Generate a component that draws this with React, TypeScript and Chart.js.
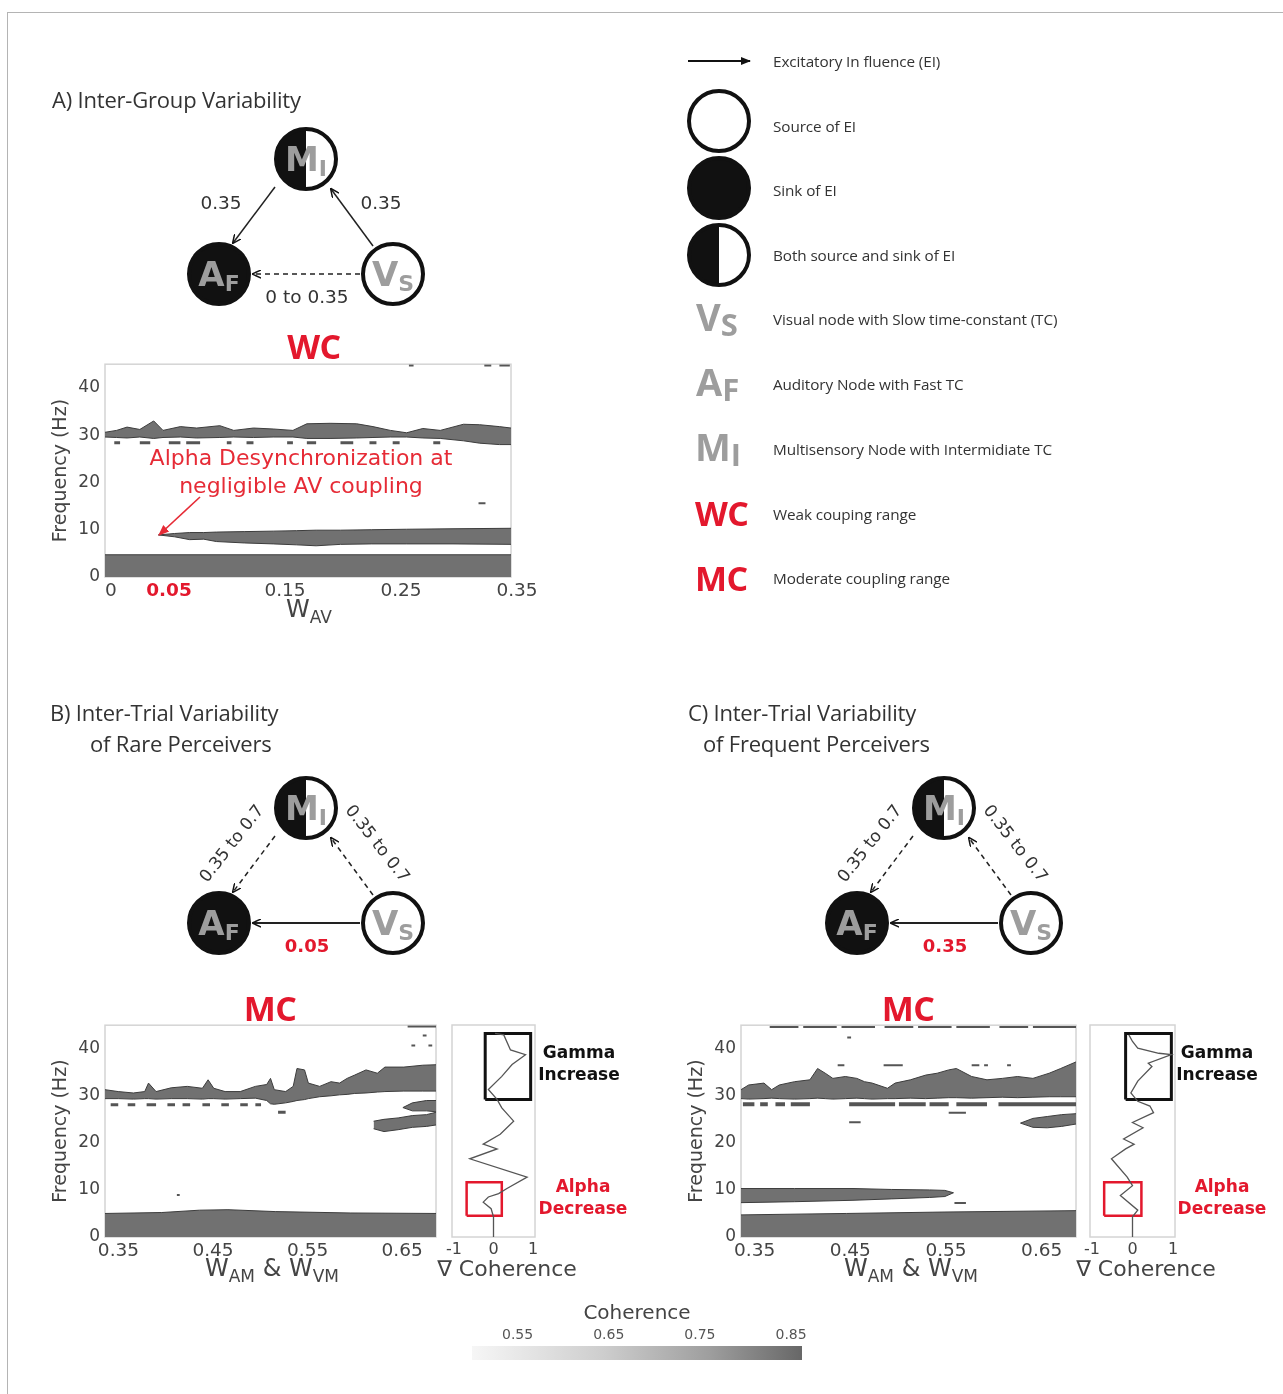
import React, { useEffect, useRef } from "react";
import { Chart, registerables } from "chart.js";
Chart.register(...registerables);

const RED = "#e3182d";
const FILL = "#717171";
const EDGE = "#3d3d3d";
const TICK = "#444";
const MONO = "DejaVu Sans";
const SANS = "'Open Sans', 'Noto Sans', sans-serif";

// ---------------- tick labels ----------------
const freqTicks = [0, 10, 20, 30, 40];
const wavTicks = [0, 0.05, 0.15, 0.25, 0.35];
const wmTicks = [0.35, 0.45, 0.55, 0.65];
const gradTicks = [-1, 0, 1];
const colorbarTicks = [0.55, 0.65, 0.75, 0.85];
const colorbarRange = [0.5, 0.862];

// ---------------- Panel A (W_AV 0..0.35) ----------------
const aLowX = [0, 0.1, 0.2, 0.35];
const aLowHi = [4.7, 4.7, 4.7, 4.7];
const aAlphaX = [0.046, 0.06, 0.073, 0.085, 0.096, 0.12, 0.145, 0.165, 0.182, 0.203, 0.23, 0.26, 0.3, 0.35];
const aAlphaHi = [8.9, 9.2, 9.4, 9.4, 9.5, 9.6, 9.7, 9.8, 9.9, 9.9, 10.0, 10.1, 10.2, 10.3];
const aAlphaLo = [8.9, 8.5, 7.9, 8.0, 7.5, 7.2, 7.0, 6.8, 6.6, 6.9, 7.0, 7.0, 7.0, 6.9];
const aGammaX = [0, 0.01, 0.019, 0.03, 0.042, 0.05, 0.065, 0.079, 0.099, 0.111, 0.128, 0.145, 0.162, 0.174, 0.194, 0.217, 0.231, 0.246, 0.26, 0.274, 0.289, 0.309, 0.323, 0.34, 0.35];
const aGammaHi = [30.6, 31.0, 31.7, 31.2, 33.0, 31.0, 31.8, 31.5, 32.0, 31.0, 31.5, 31.3, 31.0, 32.4, 32.5, 32.4, 31.8, 31.0, 30.5, 31.4, 31.0, 32.3, 32.2, 31.8, 31.5];
const aGammaLo = [29.6, 29.5, 29.4, 29.6, 29.3, 29.5, 29.6, 29.4, 29.5, 29.6, 29.5, 29.6, 29.6, 29.3, 29.3, 29.4, 29.5, 29.6, 29.6, 29.4, 29.3, 28.8, 28.3, 28.0, 28.0];
const aDashStart = [0.008, 0.03, 0.055, 0.07, 0.105, 0.122, 0.157, 0.174, 0.203, 0.228, 0.248, 0.283];
const aDashEnd = [0.013, 0.039, 0.065, 0.082, 0.109, 0.128, 0.162, 0.182, 0.214, 0.234, 0.254, 0.289];
const aDashFreq = [28.4, 28.4, 28.4, 28.4, 28.4, 28.4, 28.4, 28.4, 28.4, 28.4, 28.4, 28.4];
const aSpeckStart = [0.322, 0.262, 0.327, 0.34];
const aSpeckEnd = [0.328, 0.266, 0.333, 0.349];
const aSpeckFreq = [15.6, 44.7, 44.7, 44.7];

// ---------------- Panel B (W_AM & W_VM, rare perceivers) ----------------
const bLowX = [0.34, 0.4, 0.44, 0.47, 0.52, 0.6, 0.69];
const bLowHi = [5.0, 5.2, 5.7, 5.8, 5.4, 5.1, 5.0];
const bGammaX = [0.34, 0.354, 0.37, 0.382, 0.386, 0.394, 0.41, 0.427, 0.443, 0.449, 0.455, 0.467, 0.483, 0.499, 0.511, 0.515, 0.519, 0.531, 0.539, 0.543, 0.551, 0.555, 0.567, 0.579, 0.588, 0.596, 0.604, 0.616, 0.628, 0.636, 0.656, 0.676, 0.69];
const bGammaHi = [31.3, 30.9, 30.6, 30.9, 32.7, 30.9, 31.7, 32.0, 31.6, 33.4, 31.6, 30.9, 30.9, 32.0, 32.4, 33.7, 31.3, 30.9, 32.0, 35.8, 35.5, 32.7, 32.0, 33.0, 32.7, 33.7, 34.4, 35.5, 34.8, 36.1, 36.1, 36.5, 36.6];
const bGammaLo = [29.4, 29.4, 29.3, 29.4, 29.4, 29.3, 29.4, 29.4, 29.3, 29.4, 29.4, 29.3, 29.4, 29.5, 29.0, 28.3, 28.2, 28.5, 28.8, 29.0, 29.2, 29.4, 29.8, 30.0, 30.2, 30.3, 30.5, 30.6, 30.8, 30.9, 31.0, 31.0, 31.0];
const bBlob1X = [0.624, 0.635, 0.65, 0.665, 0.68, 0.69];
const bBlob1Hi = [24.6, 25.0, 25.3, 25.8, 26.0, 26.5];
const bBlob1Lo = [23.0, 22.4, 22.8, 23.3, 23.5, 23.8];
const bBlob2X = [0.655, 0.665, 0.68, 0.69];
const bBlob2Hi = [27.5, 28.5, 29.0, 29.0];
const bBlob2Lo = [27.5, 26.8, 26.8, 26.6];
const bDashStart = [0.346, 0.364, 0.384, 0.406, 0.422, 0.443, 0.463, 0.483, 0.499, 0.523];
const bDashEnd = [0.354, 0.372, 0.394, 0.414, 0.43, 0.451, 0.471, 0.491, 0.505, 0.531];
const bDashFreq = [28.1, 28.1, 28.1, 28.1, 28.1, 28.1, 28.1, 28.1, 28.1, 26.5];
const bSpeckStart = [0.664, 0.682, 0.676, 0.416, 0.66];
const bSpeckEnd = [0.668, 0.686, 0.68, 0.419, 0.69];
const bSpeckFreq = [40.7, 40.7, 42.8, 8.9, 44.7];

// ---------------- Panel C (W_AM & W_VM, frequent perceivers) ----------------
const cLowX = [0.34, 0.45, 0.55, 0.69];
const cLowHi = [4.7, 5.0, 5.3, 5.6];
const cAlphaX = [0.34, 0.396, 0.457, 0.497, 0.537, 0.553, 0.562];
const cAlphaHi = [10.3, 10.3, 10.3, 10.1, 10.0, 9.9, 9.4];
const cAlphaLo = [7.3, 7.5, 7.8, 8.1, 8.4, 8.6, 9.4];
const cGammaX = [0.34, 0.348, 0.364, 0.372, 0.38, 0.396, 0.412, 0.42, 0.428, 0.436, 0.449, 0.461, 0.469, 0.477, 0.493, 0.501, 0.517, 0.533, 0.545, 0.557, 0.565, 0.581, 0.597, 0.613, 0.629, 0.645, 0.662, 0.674, 0.69];
const cGammaHi = [31.3, 32.3, 32.7, 31.3, 32.3, 33.0, 33.4, 35.8, 34.8, 33.7, 34.1, 33.7, 33.0, 32.7, 31.6, 32.7, 33.4, 34.4, 34.8, 35.5, 35.8, 34.1, 33.4, 33.7, 34.1, 33.7, 34.8, 35.8, 37.2];
const cGammaLo = [29.4, 29.3, 29.4, 29.5, 29.4, 29.3, 29.4, 29.5, 29.4, 29.3, 29.4, 29.5, 29.4, 29.3, 29.4, 29.4, 29.5, 29.4, 29.5, 29.6, 29.6, 29.5, 29.6, 29.7, 29.6, 29.7, 29.8, 29.8, 29.8];
const cBlobX = [0.632, 0.645, 0.66, 0.675, 0.69];
const cBlobHi = [24.2, 25.2, 25.6, 26.0, 26.2];
const cBlobLo = [24.2, 23.3, 23.2, 23.5, 24.0];
const cDashStart = [0.342, 0.36, 0.376, 0.392, 0.453, 0.505, 0.537, 0.565, 0.609];
const cDashEnd = [0.354, 0.368, 0.386, 0.412, 0.501, 0.533, 0.557, 0.597, 0.69];
const cDashFreq = [28.2, 28.2, 28.2, 28.2, 28.2, 28.2, 28.2, 28.2, 28.2];
const cSpeckStart = [0.453, 0.557, 0.563, 0.441, 0.489, 0.581, 0.594, 0.618, 0.451, 0.37, 0.405, 0.445, 0.49, 0.525, 0.565, 0.61, 0.645];
const cSpeckEnd = [0.465, 0.575, 0.575, 0.448, 0.509, 0.589, 0.598, 0.622, 0.455, 0.4, 0.44, 0.48, 0.52, 0.56, 0.6, 0.64, 0.69];
const cSpeckFreq = [24.4, 26.4, 7.2, 36.5, 36.5, 36.5, 36.5, 36.5, 42.4, 44.6, 44.6, 44.6, 44.6, 44.6, 44.6, 44.6, 44.6];

// ---------------- coherence gradient profiles ----------------
const gradBX = [0, 0, -0.06, -0.26, -0.13, 0.13, 0.34, 0.85, -0.6, 0.09, -0.26, 0.17, 0.51, 0.21, 0.09, -0.13, 0.21, 0.47, 0.81, 0.43, 0.26, 0.04];
const gradBY = [0, 4.3, 6.0, 7.4, 8.5, 9.2, 10.3, 12.7, 16.6, 18.7, 19.7, 21.8, 24.6, 27.4, 29.2, 31.3, 34.1, 36.6, 38.7, 39.7, 42.9, 43.2];
const gradCX = [0, 0, 0.13, -0.3, 0, -0.13, -0.52, -0.17, 0.04, -0.22, 0.26, 0, 0.52, 0.43, 0.13, -0.04, 0.13, 0.48, 0.39, 0.96, 0.65, 0.13, 0, -0.09];
const gradCY = [0, 4.3, 5.7, 8.8, 10.9, 12.7, 16.6, 18.7, 19.7, 20.8, 23.2, 24.3, 26.4, 27.8, 28.8, 30.6, 33.1, 36.2, 36.9, 38.7, 39.0, 40.1, 41.5, 42.9];
const bGammaBoxX = [-0.21, 0.94];
const bGammaBoxY = [29.2, 43.2];
const bAlphaBoxX = [-0.68, 0.21];
const bAlphaBoxY = [4.5, 11.6];
const cGammaBoxX = [-0.17, 0.96];
const cGammaBoxY = [29.2, 43.2];
const cAlphaBoxX = [-0.7, 0.22];
const cAlphaBoxY = [4.5, 11.6];

// ---------------- helpers ----------------
const pts = (xs: number[], ys: number[]) => xs.map((x, i) => ({ x, y: ys[i] }));

function floorBand(xs: number[], hi: number[]) {
  return [{ data: pts(xs, hi), borderColor: EDGE, borderWidth: 1, pointRadius: 0, fill: "start", backgroundColor: FILL }];
}
function band(xs: number[], lo: number[], hi: number[]) {
  return [
    { data: pts(xs, lo), borderColor: EDGE, borderWidth: 1, pointRadius: 0, fill: false },
    { data: pts(xs, hi), borderColor: EDGE, borderWidth: 1, pointRadius: 0, fill: "-1", backgroundColor: FILL },
  ];
}
function dashes(starts: number[], ends: number[], ys: number[], width: number) {
  const data: any[] = [];
  starts.forEach((s, i) => {
    data.push({ x: s, y: ys[i] }, { x: ends[i], y: ys[i] }, { x: ends[i], y: null });
  });
  return { data, borderColor: "#555", borderWidth: width, pointRadius: 0, fill: false, spanGaps: false, borderCapStyle: "butt" };
}
function rect(xr: number[], yr: number[], color: string, width: number) {
  return {
    data: [
      { x: xr[0], y: yr[0] }, { x: xr[1], y: yr[0] }, { x: xr[1], y: yr[1] },
      { x: xr[0], y: yr[1] }, { x: xr[0], y: yr[0] },
    ],
    borderColor: color, borderWidth: width, pointRadius: 0, fill: false, borderJoinStyle: "miter",
  };
}

const framePlugin = {
  id: "frame",
  beforeDatasetsDraw(chart: any) {
    const { ctx, chartArea: a } = chart;
    ctx.save();
    ctx.strokeStyle = "#d4d4d4";
    ctx.lineWidth = 1.5;
    ctx.strokeRect(a.left, a.top, a.right - a.left, a.bottom - a.top);
    ctx.restore();
  },
};

function xAxis(min: number, max: number, ticks: number[], size: number, labelOffset: number, redTick?: number) {
  return {
    type: "linear",
    min,
    max,
    afterBuildTicks: (s: any) => { s.ticks = ticks.map((v) => ({ value: v })); },
    afterFit: (s: any) => { s.height = 23; },
    grid: { display: false, drawTicks: false },
    border: { display: false },
    ticks: {
      autoSkip: false,
      maxRotation: 0,
      padding: 3,
      labelOffset,
      callback: (v: any) => String(v),
      color: (c: any) => (redTick !== undefined && c.tick && c.tick.value === redTick ? RED : TICK),
      font: (c: any) => ({ family: MONO, size, weight: redTick !== undefined && c.tick && c.tick.value === redTick ? "bold" : "normal" }),
    },
  };
}
function yAxis(show: boolean) {
  if (!show) return { type: "linear", min: 0, max: 45, display: false };
  return {
    type: "linear",
    min: 0,
    max: 45,
    afterBuildTicks: (s: any) => { s.ticks = freqTicks.map((v) => ({ value: v })); },
    afterFit: (s: any) => { s.width = 57; },
    grid: { display: false, drawTicks: false },
    border: { display: false },
    ticks: { color: TICK, padding: 5, font: { family: MONO, size: 17 }, callback: (v: any) => String(v) },
    title: { display: true, text: "Frequency (Hz)", color: TICK, font: { family: MONO, size: 19 }, padding: { top: 2, bottom: 0 } },
  };
}
function lineConfig(datasets: any[], scales: any, padding: any) {
  return {
    type: "line",
    data: { datasets },
    options: {
      animation: false,
      responsive: false,
      events: [],
      layout: { padding },
      plugins: { legend: { display: false }, tooltip: { enabled: false } },
      scales,
    },
    plugins: [framePlugin],
  };
}

function ChartCanvas({ left, top, width, height, make }: any) {
  const ref = useRef<HTMLCanvasElement>(null);
  useEffect(() => {
    const chart = new Chart(ref.current as HTMLCanvasElement, make());
    return () => chart.destroy();
  }, []);
  return (
    <div style={{ position: "absolute", left, top, width, height }}>
      <canvas ref={ref} width={width} height={height} style={{ display: "block", width, height }} />
    </div>
  );
}

const makeA = () =>
  lineConfig(
    [
      ...floorBand(aLowX, aLowHi),
      ...band(aAlphaX, aAlphaLo, aAlphaHi),
      ...band(aGammaX, aGammaLo, aGammaHi),
      dashes(aDashStart, aDashEnd, aDashFreq, 3),
      dashes(aSpeckStart, aSpeckEnd, aSpeckFreq, 2),
    ],
    { x: xAxis(0, 0.35, wavTicks, 18.5, 6, 0.05), y: yAxis(true) },
    { top: 0, right: 37, left: 0, bottom: 0 }
  );

const makeB = () =>
  lineConfig(
    [
      ...floorBand(bLowX, bLowHi),
      ...band(bGammaX, bGammaLo, bGammaHi),
      ...band(bBlob1X, bBlob1Lo, bBlob1Hi),
      ...band(bBlob2X, bBlob2Lo, bBlob2Hi),
      dashes(bDashStart, bDashEnd, bDashFreq, 3),
      dashes(bSpeckStart, bSpeckEnd, bSpeckFreq, 2),
    ],
    { x: xAxis(0.34, 0.69, wmTicks, 18.5, 4), y: yAxis(true) },
    { top: 0, right: 12, left: 0, bottom: 0 }
  );

const makeC = () =>
  lineConfig(
    [
      ...floorBand(cLowX, cLowHi),
      ...band(cAlphaX, cAlphaLo, cAlphaHi),
      ...band(cGammaX, cGammaLo, cGammaHi),
      ...band(cBlobX, cBlobLo, cBlobHi),
      dashes(cDashStart, cDashEnd, cDashFreq, 4),
      dashes(cSpeckStart, cSpeckEnd, cSpeckFreq, 2),
    ],
    { x: xAxis(0.34, 0.69, wmTicks, 18.5, 4), y: yAxis(true) },
    { top: 0, right: 8, left: 0, bottom: 0 }
  );

function makeGrad(gx: number[], gy: number[], gbx: number[], gby: number[], abx: number[], aby: number[], padLeft: number) {
  return () =>
    lineConfig(
      [
        { data: pts(gx, gy), borderColor: "#555", borderWidth: 1.3, pointRadius: 0, fill: false },
        rect(gbx, gby, "#111", 3),
        rect(abx, aby, RED, 2.5),
      ],
      { x: xAxis(-1.05, 1.05, gradTicks, 16, 0), y: yAxis(false) },
      { top: 9, right: 15, left: padLeft, bottom: 0 }
    );
}

const makeColorbar = () => ({
  type: "bar",
  data: {
    labels: [""],
    datasets: [
      {
        data: [colorbarRange],
        barPercentage: 1,
        categoryPercentage: 1,
        borderWidth: 0,
        backgroundColor: (c: any) => {
          const a = c.chart.chartArea;
          if (!a) return "#aaa";
          const g = c.chart.ctx.createLinearGradient(a.left, 0, a.right, 0);
          g.addColorStop(0, "#f6f6f6");
          g.addColorStop(0.4, "#cdcdcd");
          g.addColorStop(0.72, "#9e9e9e");
          g.addColorStop(1, "#676767");
          return g;
        },
      },
    ],
  },
  options: {
    indexAxis: "y",
    animation: false,
    responsive: false,
    events: [],
    layout: { padding: { left: 10, right: 10, top: 4, bottom: 6 } },
    plugins: { legend: { display: false }, tooltip: { enabled: false } },
    scales: {
      x: {
        type: "linear",
        position: "top",
        min: colorbarRange[0],
        max: colorbarRange[1],
        afterBuildTicks: (s: any) => { s.ticks = colorbarTicks.map((v) => ({ value: v })); },
        afterFit: (s: any) => { s.height = 46; },
        grid: { display: false, drawTicks: false },
        border: { display: false },
        ticks: { color: "#555", padding: 2, font: { family: MONO, size: 14 }, callback: (v: any) => String(v) },
        title: { display: true, text: "Coherence", color: "#444", font: { family: MONO, size: 20 }, padding: { top: 2, bottom: 0 } },
      },
      y: { display: false },
    },
  },
});

// ---------------- diagram pieces ----------------
function Node({ cx, cy, kind, main, sub }: any) {
  const r = 30;
  return (
    <g>
      <circle cx={cx} cy={cy} r={r} fill={kind === "sink" ? "#111" : "#fff"} />
      {kind === "both" && <path d={`M ${cx} ${cy - r} A ${r} ${r} 0 0 0 ${cx} ${cy + r} Z`} fill="#111" />}
      <circle cx={cx} cy={cy} r={r} fill="none" stroke="#111" strokeWidth={4} />
      {main && (
        <text x={cx} y={cy + 12} textAnchor="middle" fontFamily={MONO} fontWeight="bold" fontSize={34} fill="#9d9d9d">
          {main}
          <tspan fontSize={22} dy={5}>{sub}</tspan>
        </text>
      )}
    </g>
  );
}

function Triangle({ dx, dy, dashedSides, bottomLabel, bottomRed, sideLabels, rotated }: any) {
  const M = { x: 306 + dx, y: 159 + dy };
  const A = { x: 219 + dx, y: 274 + dy };
  const V = { x: 393 + dx, y: 274 + dy };
  return (
    <g>
      <line x1={M.x - 31} y1={M.y + 28} x2={A.x + 14} y2={A.y - 31} stroke="#222" strokeWidth={1.5}
        strokeDasharray={dashedSides ? "5 4" : undefined} markerEnd="url(#vhead)" />
      <line x1={V.x - 20} y1={V.y - 28} x2={M.x + 25} y2={M.y + 30} stroke="#222" strokeWidth={1.5}
        strokeDasharray={dashedSides ? "5 4" : undefined} markerEnd="url(#vhead)" />
      <line x1={V.x - 33} y1={V.y} x2={A.x + 34} y2={A.y} stroke="#222" strokeWidth={dashedSides ? 2 : 1.5}
        strokeDasharray={dashedSides ? undefined : "5 4"} markerEnd="url(#vhead)" />
      <Node cx={M.x} cy={M.y} kind="both" main="M" sub="I" />
      <Node cx={A.x} cy={A.y} kind="sink" main="A" sub="F" />
      <Node cx={V.x} cy={V.y} kind="src" main="V" sub="S" />
      {rotated ? (
        <g>
          <text transform={`translate(${231 + dx},${843 - 649 + dy}) rotate(-52)`} textAnchor="middle" dominantBaseline="central"
            fontFamily={MONO} fontSize={17} fill="#333">{sideLabels[0]}</text>
          <text transform={`translate(${378 + dx},${843 - 649 + dy}) rotate(52)`} textAnchor="middle" dominantBaseline="central"
            fontFamily={MONO} fontSize={17} fill="#333">{sideLabels[1]}</text>
        </g>
      ) : (
        <g>
          <text x={221 + dx} y={202 + dy} textAnchor="middle" dominantBaseline="central" fontFamily={MONO} fontSize={18.5} fill="#333">{sideLabels[0]}</text>
          <text x={381 + dx} y={202 + dy} textAnchor="middle" dominantBaseline="central" fontFamily={MONO} fontSize={18.5} fill="#333">{sideLabels[1]}</text>
        </g>
      )}
      <text x={307 + dx} y={296 + dy} textAnchor="middle" dominantBaseline="central" fontFamily={MONO}
        fontSize={bottomRed ? 18 : 18.5} fontWeight={bottomRed ? "bold" : "normal"} fill={bottomRed ? RED : "#333"}>{bottomLabel}</text>
    </g>
  );
}

const abs = (x: number, y: number, extra: any = {}) => ({ position: "absolute" as const, left: x, top: y, whiteSpace: "nowrap" as const, ...extra });

function Center({ x, y, children, style }: any) {
  return <div style={abs(x, y, { transform: "translate(-50%, -50%)", ...style })}>{children}</div>;
}
function Left({ x, y, children, style }: any) {
  return <div style={abs(x, y, { transform: "translateY(-50%)", ...style })}>{children}</div>;
}

const titleStyle = { fontFamily: SANS, fontSize: 22, color: "#333", letterSpacing: -0.2 };
const legendStyle = { fontFamily: SANS, fontSize: 15.3, color: "#333", letterSpacing: -0.1 };
const axisTitle = { fontFamily: MONO, fontSize: 24, color: "#444" };
const subStyle: any = { fontSize: 17, position: "relative", top: 6 };
const bigRed = { fontFamily: SANS, fontWeight: 700, fontSize: 34, color: RED, letterSpacing: -0.5 };
const boxLabel = { fontFamily: MONO, fontWeight: 700, fontSize: 17, color: "#111", textAlign: "center" as const, lineHeight: "22px" };
const symStyle = { fontFamily: SANS, fontWeight: 700, fontSize: 38, fill: "#9d9d9d" };

export default function App() {
  return (
    <div style={{ position: "absolute", left: 0, top: 0, width: 1283, height: 1394, overflow: "hidden", background: "#fff" }}>
      <div style={{ position: "absolute", left: 7, top: 12, width: 1300, height: 1400, border: "1px solid #b4b4b4" }} />

      <ChartCanvas left={48} top={349} width={500} height={251} make={makeA} />
      <ChartCanvas left={48} top={1010} width={400} height={250} make={makeB} />
      <ChartCanvas left={440} top={1016} width={110} height={244} make={makeGrad(gradBX, gradBY, bGammaBoxX, bGammaBoxY, bAlphaBoxX, bAlphaBoxY, 12)} />
      <ChartCanvas left={684} top={1010} width={400} height={250} make={makeC} />
      <ChartCanvas left={1080} top={1016} width={110} height={244} make={makeGrad(gradCX, gradCY, cGammaBoxX, cGammaBoxY, cAlphaBoxX, cAlphaBoxY, 10)} />
      <ChartCanvas left={462} top={1296} width={350} height={70} make={makeColorbar} />

      <svg width={1283} height={1394} style={{ position: "absolute", left: 0, top: 0, pointerEvents: "none" }}>
        <defs>
          <marker id="vhead" viewBox="0 0 10 10" refX="9" refY="5" markerWidth="9" markerHeight="9" markerUnits="userSpaceOnUse" orient="auto">
            <path d="M0,0.5 L10,5 L0,9.5" fill="none" stroke="#111" strokeWidth="1.6" />
          </marker>
          <marker id="fhead" viewBox="0 0 10 10" refX="9" refY="5" markerWidth="12" markerHeight="10" markerUnits="userSpaceOnUse" orient="auto">
            <path d="M0,1 L10,5 L0,9 z" fill="#111" />
          </marker>
          <marker id="rhead" viewBox="0 0 10 10" refX="9" refY="5" markerWidth="11" markerHeight="11" markerUnits="userSpaceOnUse" orient="auto">
            <path d="M0,1 L10,5 L0,9 z" fill="#e62b36" />
          </marker>
        </defs>

        <Triangle dx={0} dy={0} dashedSides={false} bottomLabel="0 to 0.35" bottomRed={false} sideLabels={["0.35", "0.35"]} rotated={false} />
        <Triangle dx={0} dy={649} dashedSides={true} bottomLabel="0.05" bottomRed={true} sideLabels={["0.35 to 0.7", "0.35 to 0.7"]} rotated={true} />
        <Triangle dx={638} dy={649} dashedSides={true} bottomLabel="0.35" bottomRed={true} sideLabels={["0.35 to 0.7", "0.35 to 0.7"]} rotated={true} />

        {/* annotation arrow in A */}
        <line x1={200} y1={497} x2={159} y2={535} stroke="#e62b36" strokeWidth={1.6} markerEnd="url(#rhead)" />

        {/* legend graphics */}
        <line x1={688} y1={61} x2={750} y2={61} stroke="#111" strokeWidth={1.8} markerEnd="url(#fhead)" />
        <Node cx={719} cy={121} kind="src" />
        <Node cx={719} cy={188} kind="sink" />
        <Node cx={719} cy={255} kind="both" />
        <text x={696} y={331} {...symStyle}>V<tspan fontSize={31} dy={5}>S</tspan></text>
        <text x={696} y={396} {...symStyle}>A<tspan fontSize={31} dy={5}>F</tspan></text>
        <text x={695} y={461} {...symStyle}>M<tspan fontSize={31} dy={5}>I</tspan></text>
      </svg>

      {/* panel titles */}
      <Left x={52} y={99} style={titleStyle}>A) Inter-Group Variability</Left>
      <Left x={50} y={712} style={titleStyle}>B) Inter-Trial Variability</Left>
      <Left x={90} y={743} style={titleStyle}>of Rare Perceivers</Left>
      <Left x={688} y={712} style={titleStyle}>C) Inter-Trial Variability</Left>
      <Left x={703} y={743} style={titleStyle}>of Frequent Perceivers</Left>

      {/* coupling range labels */}
      <Center x={314} y={346} style={bigRed}>WC</Center>
      <Center x={270} y={1008} style={bigRed}>MC</Center>
      <Center x={908} y={1008} style={bigRed}>MC</Center>

      {/* annotation in A */}
      <Center x={301} y={457} style={{ fontFamily: MONO, fontSize: 22, color: "#e62b36" }}>Alpha Desynchronization at</Center>
      <Center x={301} y={485} style={{ fontFamily: MONO, fontSize: 22, color: "#e62b36" }}>negligible AV coupling</Center>

      {/* axis titles */}
      <Center x={309} y={609} style={axisTitle}>W<span style={subStyle}>AV</span></Center>
      <Center x={272} y={1268} style={axisTitle}>W<span style={subStyle}>AM</span> &amp; W<span style={subStyle}>VM</span></Center>
      <Center x={911} y={1268} style={axisTitle}>W<span style={subStyle}>AM</span> &amp; W<span style={subStyle}>VM</span></Center>
      <Center x={507} y={1268} style={{ fontFamily: MONO, fontSize: 22, color: "#444" }}>∇ Coherence</Center>
      <Center x={1146} y={1268} style={{ fontFamily: MONO, fontSize: 22, color: "#444" }}>∇ Coherence</Center>

      {/* box labels */}
      <Center x={579} y={1063} style={boxLabel}>Gamma<br />Increase</Center>
      <Center x={583} y={1197} style={{ ...boxLabel, color: RED }}>Alpha<br />Decrease</Center>
      <Center x={1217} y={1063} style={boxLabel}>Gamma<br />Increase</Center>
      <Center x={1222} y={1197} style={{ ...boxLabel, color: RED }}>Alpha<br />Decrease</Center>

      {/* legend texts */}
      <Left x={773} y={61} style={legendStyle}>Excitatory In fluence (EI)</Left>
      <Left x={773} y={126} style={legendStyle}>Source of EI</Left>
      <Left x={773} y={190} style={legendStyle}>Sink of EI</Left>
      <Left x={773} y={255} style={legendStyle}>Both source and sink of EI</Left>
      <Left x={773} y={319} style={legendStyle}>Visual node with Slow time-constant (TC)</Left>
      <Left x={773} y={384} style={legendStyle}>Auditory Node with Fast TC</Left>
      <Left x={773} y={449} style={legendStyle}>Multisensory Node with Intermidiate TC</Left>
      <Left x={773} y={514} style={legendStyle}>Weak couping range</Left>
      <Left x={773} y={578} style={legendStyle}>Moderate coupling range</Left>
      <Left x={695} y={513} style={bigRed}>WC</Left>
      <Left x={695} y={578} style={bigRed}>MC</Left>
    </div>
  );
}
